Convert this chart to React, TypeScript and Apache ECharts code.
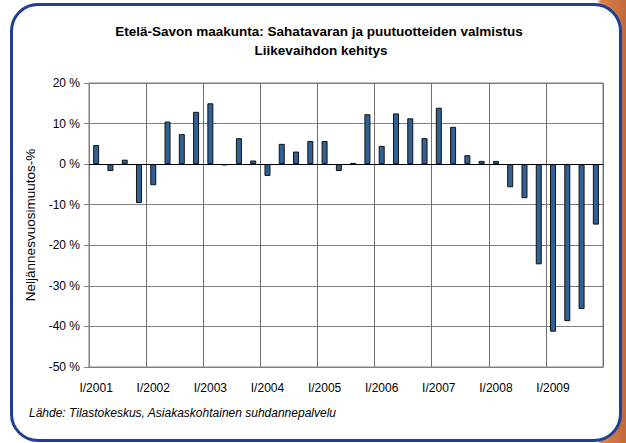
import React, { useEffect, useRef } from "react";
import * as echarts from "echarts";

const years = [2001, 2002, 2003, 2004, 2005, 2006, 2007, 2008, 2009];
const quarters = ["I", "II", "III", "IV"];
const categories: string[] = years.flatMap((y) => quarters.map((q) => `${q}/${y}`));
const values = [
  4.7, -1.7, 1.1, -9.6,
  -5.2, 10.5, 7.4, 12.9,
  15.0, -0.3, 6.4, 0.9,
  -2.9, 5.0, 3.1, 5.7,
  5.7, -1.7, 0.3, 12.3,
  4.5, 12.5, 11.3, 6.4,
  13.9, 9.2, 2.2, 0.8,
  0.8, -5.7, -8.4, -24.7,
  -41.3, -38.7, -35.7, -14.9,
];
const titleLines = [
  "Etelä-Savon maakunta: Sahatavaran ja puutuotteiden valmistus",
  "Liikevaihdon kehitys",
];
const yAxisName = "Neljännesvuosimuutos-%";
const sourceText = "Lähde: Tilastokeskus, Asiakaskohtainen suhdannepalvelu";

export default function App() {
  const ref = useRef<HTMLDivElement>(null);
  useEffect(() => {
    document.body.style.margin = "0";
    if (!ref.current) return;
    const chart = echarts.init(ref.current, null, { renderer: "svg" });
    const font = "'Liberation Sans', Arial, sans-serif";
    chart.setOption({
      animation: false,
      textStyle: { fontFamily: font },
      grid: {
        left: 89,
        right: 23,
        top: 83,
        bottom: 76,
        show: true,
        borderColor: "#7f7f7f",
        borderWidth: 1,
        backgroundColor: "transparent",
      },
      graphic: [
        {
          type: "text",
          x: 319,
          y: 31,
          style: {
            text: titleLines[0],
            font: `bold 13.5px ${font}`,
            fill: "#000",
            textAlign: "center",
            textVerticalAlign: "middle",
          },
        },
        {
          type: "text",
          x: 321,
          y: 50,
          style: {
            text: titleLines[1],
            font: `bold 13.5px ${font}`,
            fill: "#000",
            textAlign: "center",
            textVerticalAlign: "middle",
          },
        },
        {
          type: "text",
          x: 29,
          y: 413,
          style: {
            text: sourceText,
            font: `italic 12px ${font}`,
            fill: "#000",
            textAlign: "left",
            textVerticalAlign: "middle",
          },
        },
      ],
      xAxis: {
        type: "category",
        data: categories,
        boundaryGap: true,
        axisLine: { onZero: false, lineStyle: { color: "#7f7f7f" } },
        axisTick: { show: false },
        axisLabel: {
          interval: 3,
          margin: 15,
          fontSize: 12,
          color: "#000",
          fontFamily: font,
        },
        splitLine: { show: true, interval: 3, lineStyle: { color: "#6f6f6f", width: 1 } },
      },
      yAxis: {
        type: "value",
        min: -50,
        max: 20,
        interval: 10,
        name: yAxisName,
        nameLocation: "middle",
        nameRotate: 90,
        nameGap: 50,
        nameTextStyle: { fontSize: 13.5, color: "#000", fontFamily: font },
        axisLine: { show: true, lineStyle: { color: "#7f7f7f" } },
        axisTick: { show: true, length: 5, lineStyle: { color: "#7f7f7f" } },
        axisLabel: {
          formatter: "{value} %",
          fontSize: 12,
          color: "#000",
          margin: 9,
          fontFamily: font,
        },
        splitLine: { show: true, lineStyle: { color: "#7f7f7f", width: 1 } },
      },
      series: [
        {
          type: "bar",
          data: values,
          barWidth: 6,
          itemStyle: { color: "#2f6196", borderColor: "#111", borderWidth: 1 },
          markLine: {
            silent: true,
            symbol: "none",
            label: { show: false },
            lineStyle: { color: "#000", width: 1, type: "solid" },
            data: [{ yAxis: 0 }],
          },
        },
      ],
    });
    return () => chart.dispose();
  }, []);

  return (
    <div
      style={{
        position: "absolute",
        left: 0,
        top: 0,
        width: 626,
        height: 443,
        overflow: "hidden",
        background:
          "linear-gradient(to right, #ffffff 0px, #ffffff 597px, #d9824b 601px, #c2693a 626px)",
      }}
    >
      <div
        style={{
          position: "absolute",
          left: 10,
          top: 3,
          width: 612,
          height: 439,
          boxSizing: "border-box",
          border: "3px solid #1d4095",
          borderRadius: 28,
          background: "#fff",
        }}
      />
      <div
        ref={ref}
        style={{ position: "absolute", left: 0, top: 0, width: 626, height: 443 }}
      />
    </div>
  );
}
